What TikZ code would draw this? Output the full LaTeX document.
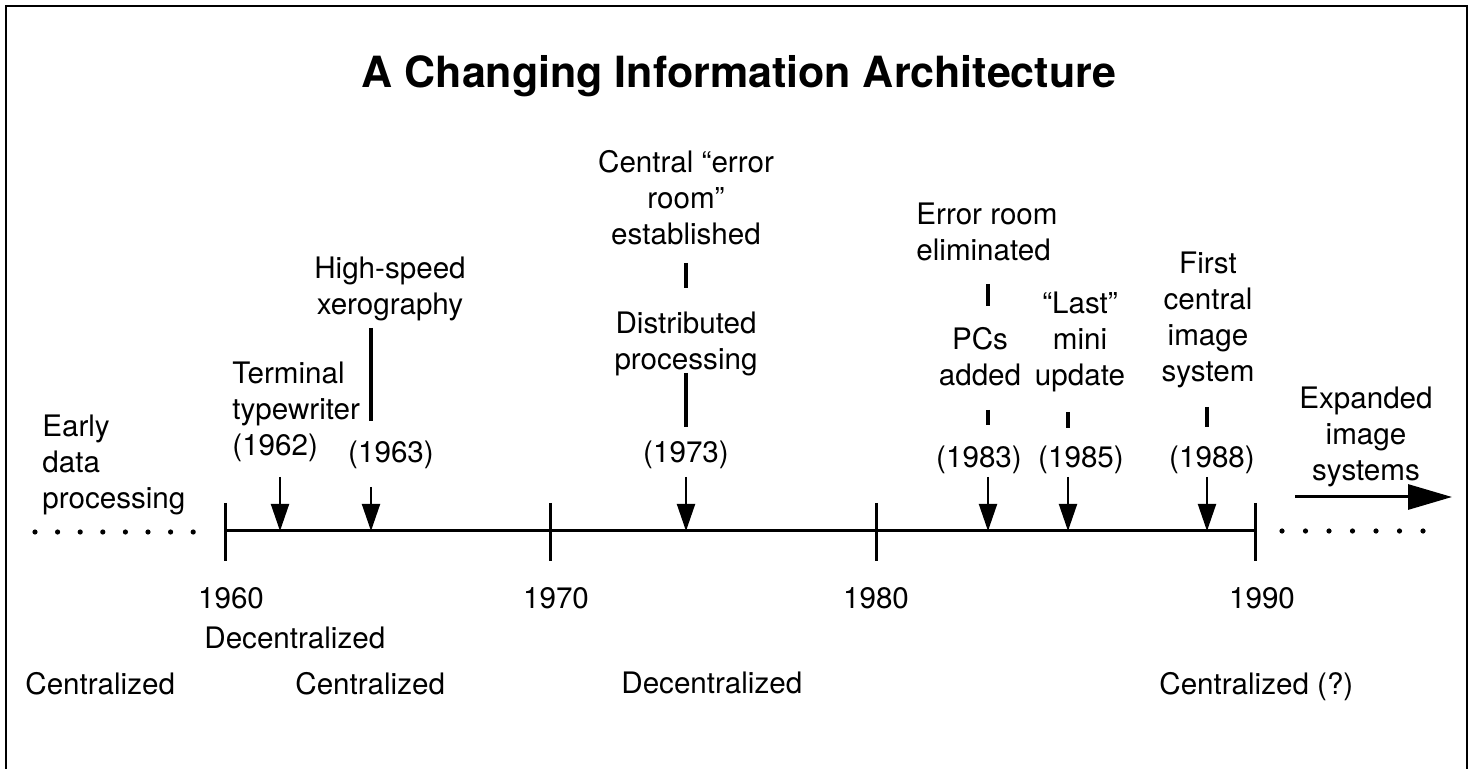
\documentclass[tikz,border=0pt]{standalone}
\usepackage{fontspec}
\setmainfont{TeX Gyre Heros}
\usetikzlibrary{arrows.meta}

\tikzset{
	lbl/.style={inner sep=0pt, font=\fontsize{14.8}{18}\selectfont},
	axis/.style={line width=1.5pt},
	bar/.style={line width=1.6pt},
	evarrow/.style={line width=1pt, -{Triangle[length=13.5pt,width=9pt]}},
}

\begin{document}
\begin{tikzpicture}[x=0.5pt,y=-0.5pt]
\useasboundingbox (0,0) rectangle (1472,769);

% frame, open at the bottom
\draw[line width=1pt] (6,769) -- (6,6) -- (1467,6) -- (1467,769);

\node[inner sep=0pt, anchor=north, font=\fontsize{21.5}{26}\selectfont\bfseries] (title) at (739,55) {A Changing Information Architecture};

% time axis
\coordinate (y60) at (225,531);
\coordinate (y90) at (1255,531);
\draw[axis] (y60) -- (y90);
\foreach \x/\lx/\yr in {225/231/1960, 550/556/1970, 876/876/1980, 1255/1262/1990}{
	\draw[axis] (\x,503) -- (\x,561);
	\node[lbl, anchor=north] (yr\yr) at (\lx,587) {\yr};
}
\foreach \i in {0,...,7}
	\fill (35+22.6*\i,532) circle (1.3pt);
\foreach \i in {0,...,6}
	\fill (1282+23.5*\i,531) circle (1.3pt);

% event points on the axis
\coordinate (t62) at (280,531);
\coordinate (t63) at (371,531);
\coordinate (t73) at (686,531);
\coordinate (t83) at (988,531);
\coordinate (t85) at (1068,531);
\coordinate (t88) at (1207,531);

% labels
\node[lbl, anchor=north west, align=left] (early) at (42,415) {Early\\data\\processing};
\node[lbl, anchor=north west, align=left] (term) at (232,362) {Terminal\\typewriter\\(1962)};
\node[lbl, anchor=north, align=center] (xero) at (390,257) {High-speed\\xerography};
\node[lbl, anchor=north] (l63) at (391,441) {(1963)};
\node[lbl, anchor=north, align=center] (eroom) at (686,150) {Central “error\\room”\\established};
\node[lbl, anchor=north, align=center] (dist) at (686,312) {Distributed\\processing};
\node[lbl, anchor=north] (l73) at (686,441) {(1973)};
\node[lbl, anchor=north west, align=left] (elim) at (916,203) {Error room\\eliminated};
\node[lbl, anchor=north, align=center] (pcs) at (980,327) {PCs\\added};
\node[lbl, anchor=north] (l83) at (979,446) {(1983)};
\node[lbl, anchor=north, align=center] (mini) at (1080,292) {“Last”\\mini\\update};
\node[lbl, anchor=north] (l85) at (1081,446) {(1985)};
\node[lbl, anchor=north, align=center] (image) at (1208,252) {First\\central\\image\\system};
\node[lbl, anchor=north] (l88) at (1212,446) {(1988)};
\node[lbl, anchor=north, align=center] (expand) at (1366,387) {Expanded\\image\\systems};

% small connecting bars
\draw[bar] (t63 |- 0,328) -- (t63 |- 0,421);
\draw[bar] (t73 |- 0,263) -- (t73 |- 0,288);
\draw[bar] (t73 |- 0,373) -- (t73 |- 0,427);
\draw[bar] (t83 |- 0,284) -- (t83 |- 0,306);
\draw[bar] (t83 |- 0,410) -- (t83 |- 0,425);
\draw[bar] (t85 |- 0,412) -- (t85 |- 0,428);
\draw[bar] (t88 |- 0,407) -- (t88 |- 0,427);

% arrows down to the axis
\draw[evarrow] (t62 |- 0,477) -- (t62);
\draw[evarrow] (t63 |- 0,487) -- (t63);
\foreach \t in {t73,t83,t85,t88}
	\draw[evarrow] (\t |- 0,477) -- (\t);

\coordinate (xa) at (1295,497);
\coordinate (xb) at (1452,497);
\draw[line width=1.5pt, -{Triangle[length=22pt,width=12.5pt]}] (xa) -- (xb);

% periods
\node[lbl, anchor=north west] (dec1) at (204,627) {Decentralized};
\node[lbl, anchor=north west] (cen1) at (25,672) {Centralized};
\node[lbl, anchor=north west] (cen2) at (295,672) {Centralized};
\node[lbl, anchor=north west] (dec2) at (621,672) {Decentralized};
\node[lbl, anchor=north west] (cen3) at (1159,672) {Centralized (?)};

\end{tikzpicture}
\end{document}
